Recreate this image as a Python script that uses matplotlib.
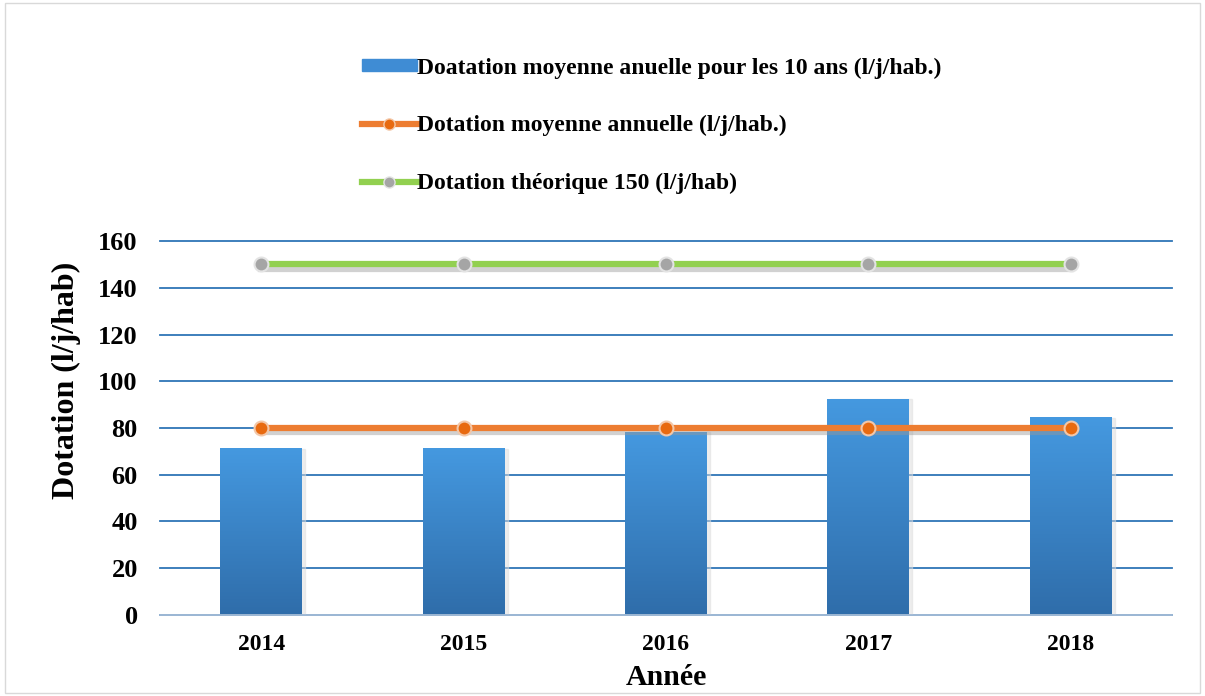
import numpy as np
import matplotlib
matplotlib.use("Agg")
import matplotlib.pyplot as plt
from matplotlib.lines import Line2D
from matplotlib.patches import Rectangle
import matplotlib.patheffects as pe

years = ["2014", "2015", "2016", "2017", "2018"]
dotation_10ans = [71.5, 71.5, 78.5, 92.5, 84.5]
dotation_annuelle = [80, 80, 80, 80, 80]
dotation_theorique = [150, 150, 150, 150, 150]

plt.rcParams['font.family'] = ['Liberation Serif', 'DejaVu Serif']
plt.rcParams['font.weight'] = 'bold'

fig = plt.figure(figsize=(12.05, 6.96), dpi=100)
ax = fig.add_axes([0.1328, 0.1164, 0.8398, 0.5373])

x = np.arange(len(years))
grad = np.linspace(0, 1, 256).reshape(-1, 1)
cmap = matplotlib.colors.LinearSegmentedColormap.from_list("bl", ["#2F6DAA", "#4599E0"])
bars = ax.bar(x, dotation_10ans, width=0.405, color="#3F8CD4", zorder=2)
for b in bars:
    bx, by = b.get_x(), b.get_y()
    w, h = b.get_width(), b.get_height()
    # soft shadow
    ax.add_patch(Rectangle((bx + 0.015, by), w, h - 0.3, color="#dddddd", alpha=0.5, zorder=1.5))
    im = ax.imshow(grad, extent=[bx, bx + w, by, by + h], origin="lower",
                   cmap=cmap, aspect="auto", zorder=2.1)
    im.set_clip_path(b)

shadow = [pe.SimpleLineShadow(offset=(0, -3), shadow_color="#999999", alpha=0.45), pe.Normal()]
ax.plot(x, dotation_annuelle, color="#ED7D31", lw=4.5, zorder=4, path_effects=shadow)
ax.plot(x, dotation_annuelle, ls="none", marker="o", ms=10,
        markerfacecolor="#E86A10", markeredgecolor="#F3C7A8", markeredgewidth=1.5, zorder=5)
ax.plot(x, dotation_theorique, color="#92D050", lw=4.5, zorder=4, path_effects=shadow)
ax.plot(x, dotation_theorique, ls="none", marker="o", ms=10,
        markerfacecolor="#A5A5A5", markeredgecolor="#E3E3E3", markeredgewidth=1.5, zorder=5)

ax.set_xlim(-0.5, 4.5)
ax.set_ylim(0, 160)
ax.set_yticks(np.arange(0, 161, 20))
ax.set_xticks(x)
ax.set_xticklabels(years)
ax.yaxis.grid(True, color="#2E75B6", lw=1.3, zorder=0)
for gl in ax.yaxis.get_gridlines():
    gl.set_clip_on(False)
ax.set_axisbelow(True)
for s in ["top", "right", "left"]:
    ax.spines[s].set_visible(False)
ax.spines["bottom"].set_color("#A6BDD7")
ax.spines["bottom"].set_linewidth(1.3)
ax.tick_params(axis="both", length=0)
ax.tick_params(axis="y", labelsize=19, pad=16)
ax.tick_params(axis="x", labelsize=17, pad=14)
ax.set_ylabel("Dotation (l/j/hab)", fontsize=23, fontweight="bold")
ax.yaxis.set_label_coords(-0.078, 0.628)
ax.set_xlabel("Année", fontsize=21.5, fontweight="bold", labelpad=6)

handles = [
    Rectangle((0, 0), 1, 1, color="#3F8CD4"),
    Line2D([0], [0], color="#ED7D31", lw=4.5, marker="o", ms=8,
           markerfacecolor="#E86A10", markeredgecolor="#F3C7A8"),
    Line2D([0], [0], color="#92D050", lw=4.5, marker="o", ms=8,
           markerfacecolor="#A5A5A5", markeredgecolor="#E3E3E3"),
]
labels = [
    "Doatation moyenne anuelle pour les 10 ans (l/j/hab.)",
    "Dotation moyenne annuelle (l/j/hab.)",
    "Dotation théorique 150 (l/j/hab)",
]
fig.legend(handles, labels, loc="upper left", bbox_to_anchor=(0.283, 0.948),
           frameon=False, prop={"size": 17, "weight": "bold"},
           handlelength=2.3, handleheight=0.4, handletextpad=0.02, labelspacing=1.55)

fig.patches.append(Rectangle((0.004, 0.004), 0.992, 0.992, transform=fig.transFigure,
                             fill=False, edgecolor="#D9D9D9", lw=1))

fig.savefig("out.png", dpi=100)
